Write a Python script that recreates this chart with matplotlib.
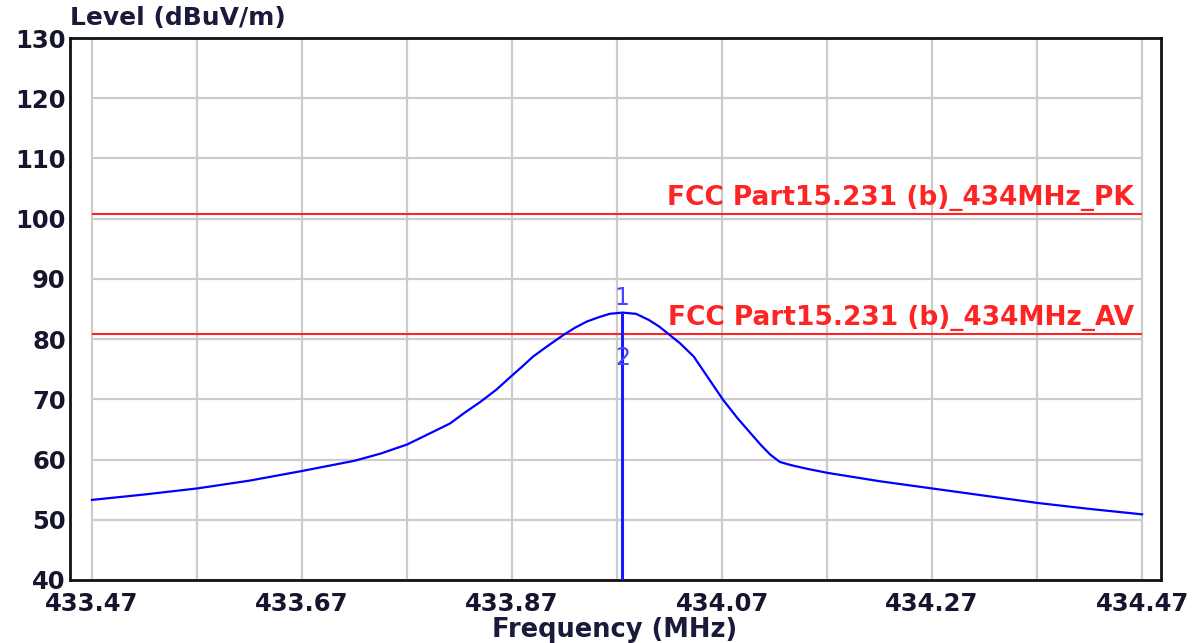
import numpy as np
import matplotlib
matplotlib.use("Agg")
import matplotlib.pyplot as plt

# Values
freq_mhz = [433.47, 433.52, 433.57, 433.62, 433.67, 433.72, 433.745, 433.77,
            433.79, 433.811, 433.825, 433.84, 433.855, 433.868, 433.88, 433.89,
            433.905, 433.919, 433.93, 433.941, 433.952, 433.963, 433.975,
            433.988, 434.00, 434.01, 434.02, 434.03, 434.043, 434.057, 434.071,
            434.085, 434.097, 434.107, 434.116, 434.125, 434.135, 434.15,
            434.17, 434.22, 434.27, 434.32, 434.37, 434.42, 434.47]
level_dbuv = [53.3, 54.2, 55.2, 56.5, 58.1, 59.8, 61.0, 62.5,
              64.2, 66.0, 67.8, 69.6, 71.6, 73.65, 75.5, 77.1,
              79.0, 80.7, 81.9, 82.9, 83.6, 84.2, 84.4,
              84.2, 83.2, 82.1, 80.7, 79.3, 77.1, 73.5, 69.9,
              66.8, 64.4, 62.4, 60.8, 59.6, 59.1, 58.5,
              57.8, 56.4, 55.2, 54.0, 52.8, 51.8, 50.9]

pk_limit = 100.8
av_limit = 80.8
pk_label = "FCC Part15.231 (b)_434MHz_PK"
av_label = "FCC Part15.231 (b)_434MHz_AV"

marker_freq = 433.975
marker_pk = 84.4
marker_av = 76.9

x_ticks = [433.47, 433.67, 433.87, 434.07, 434.27, 434.47]
x_tick_labels = ["433.47", "433.67", "433.87", "434.07", "434.27", "434.47"]
x_grid = np.round(np.arange(433.47, 434.4701, 0.1), 2)
y_ticks = list(range(40, 131, 10))

fig = plt.figure(figsize=(12.03, 6.43), dpi=100)
ax = fig.add_axes([0.0582, 0.0980, 0.9069, 0.8429])

x0, x1 = 433.47, 434.47
ax.set_xlim(x0 - 0.021, x1 + 0.018)
ax.set_ylim(40, 130)

# grid (only spans the data range, not the padding)
ax.vlines(x_grid, 40, 130, colors="#cccccc", lw=1.6, zorder=1)
ax.hlines(y_ticks, x0, x1, colors="#cccccc", lw=1.6, zorder=1)

# limit lines
ax.hlines([pk_limit, av_limit], x0, x1, colors="#ff2424", lw=1.5, zorder=2)
ax.text(x1 - 0.008, pk_limit + 0.5, pk_label, color="#ff2424", fontsize=19,
        fontweight="bold", ha="right", va="bottom", zorder=3)
ax.text(x1 - 0.008, av_limit + 0.5, av_label, color="#ff2424", fontsize=19,
        fontweight="bold", ha="right", va="bottom", zorder=3)

# trace
ax.plot(freq_mhz, level_dbuv, color="#0000ff", lw=1.6, zorder=4)

# marker
ax.vlines(marker_freq, 40, marker_pk, colors="#1a1aff", lw=2.2, zorder=5)
ax.text(marker_freq, marker_pk + 0.4, "1", color="#4646ff", fontsize=17,
        ha="center", va="bottom", zorder=6)
ax.text(marker_freq, marker_av, "2", color="#4646ff", fontsize=17,
        ha="center", va="center", zorder=6)

ax.set_xticks(x_ticks)
ax.set_xticklabels(x_tick_labels)
ax.set_yticks(y_ticks)
ax.tick_params(length=0, labelsize=17.5, labelcolor="#15152e", pad=3)
for lab in ax.get_xticklabels() + ax.get_yticklabels():
    lab.set_fontweight("bold")
ax.tick_params(axis="x", pad=9)

for s in ax.spines.values():
    s.set_linewidth(2.0)
    s.set_color("#111111")

fig.text(0.0582, 0.972, "Level (dBuV/m)", fontsize=18, fontweight="bold",
         color="#1a1a3a", ha="left", va="center")
fig.text(0.511, 0.020, "Frequency (MHz)", fontsize=18.5, fontweight="bold",
         color="#1a1a3a", ha="center", va="center")

fig.savefig("out.png", dpi=100)
